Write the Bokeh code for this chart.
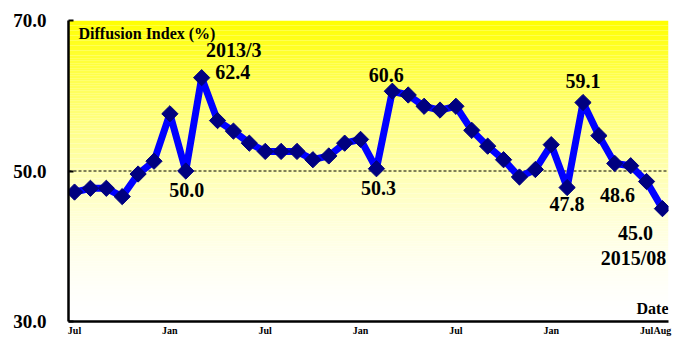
import numpy as np
from bokeh.plotting import figure
from bokeh.models import Label, FixedTicker
from bokeh.core.properties import value
from bokeh.embed import file_html
from bokeh.resources import INLINE

# ---- data ----
months = ["2012/07", "2012/08", "2012/09", "2012/10", "2012/11", "2012/12",
          "2013/01", "2013/02", "2013/03", "2013/04", "2013/05", "2013/06",
          "2013/07", "2013/08", "2013/09", "2013/10", "2013/11", "2013/12",
          "2014/01", "2014/02", "2014/03", "2014/04", "2014/05", "2014/06",
          "2014/07", "2014/08", "2014/09", "2014/10", "2014/11", "2014/12",
          "2015/01", "2015/02", "2015/03", "2015/04", "2015/05", "2015/06",
          "2015/07", "2015/08"]
diffusion = [47.2, 47.7, 47.7, 46.6, 49.6, 51.3,
             57.6, 50.0, 62.4, 56.7, 55.3, 53.7,
             52.6, 52.6, 52.6, 51.5, 52.0, 53.7,
             54.2, 50.3, 60.6, 60.1, 58.6, 58.1,
             58.6, 55.4, 53.3, 51.5, 49.2, 50.2,
             53.5, 47.8, 59.1, 54.7, 51.0, 50.7,
             48.6, 45.0]
x_tick_pos = [0, 6, 12, 18, 24, 30, 36, 37]
x_tick_labels = ["Jul", "Jan", "Jul", "Jan", "Jul", "Jan", "Jul", "Aug"]
y_ticks = [30, 50, 70]
y_tick_labels = ["30.0", "50.0", "70.0"]
# annotated points (index into series)
ann_idx = [8, 7, 20, 19, 32, 31, 36, 37]
# extra date captions
date_idx = [8, 37]
date_text = ["2013/3", "2015/08"]

# ---- styles ----
ann_dx = [31, 1, -6, 2, 0, 0, -29, -27]
ann_dy = [-6, 19, -16, 19, -22, 16, 13, 24]
date_dx = [32, -29]
date_dy = [-28, 49]

SERIF = "Liberation Serif"
x = list(range(len(diffusion)))
x0, x1 = -0.38, 37.38
y0, y1 = 30, 70

p = figure(width=675, height=338, output_backend="svg", toolbar_location=None,
           x_range=(x0, x1), y_range=(y0, y1),
           min_border_left=68, min_border_right=7, min_border_top=20, min_border_bottom=13)
p.outline_line_color = None
p.background_fill_color = "white"
p.border_fill_color = "white"
p.xgrid.visible = False
p.ygrid.visible = False

# gradient background (yellow at top -> white at bottom)
nb = 120
edges = np.linspace(y0, y1, nb + 1)
cols = []
for i in range(nb):
    t = 1 - ((edges[i] + edges[i + 1]) / 2 - y0) / (y1 - y0)  # 0 at top, 1 at bottom
    b = int(round(255 * (1 - (1 - t) ** 1.7)))
    cols.append("#ffff%02x" % b)
p.quad(left=x0, right=x1, bottom=edges[:-1], top=edges[1:], fill_color=cols,
       line_color=None)

# dashed 50 reference
p.segment(x0=[x0], x1=[x1], y0=[50], y1=[50], line_color="black",
          line_width=1, line_dash="3 2")

p.line(x, diffusion, line_color="#0000ff", line_width=7, line_join="round")
p.scatter(x, diffusion, marker="square", size=11.5, angle=np.pi / 4,
          fill_color="#000080", line_color="#000080")

# value annotations
p.text(x=[x[i] for i in ann_idx], y=[diffusion[i] for i in ann_idx],
       text=["%.1f" % diffusion[i] for i in ann_idx],
       x_offset=ann_dx, y_offset=ann_dy, text_align="center", text_baseline="middle",
       text_font=value(SERIF), text_font_style="bold", text_font_size="20px",
       text_color="black")
p.text(x=[x[i] for i in date_idx], y=[diffusion[i] for i in date_idx],
       text=date_text, x_offset=date_dx, y_offset=date_dy,
       text_align="center", text_baseline="middle",
       text_font=value(SERIF), text_font_style="bold", text_font_size="20px",
       text_color="black")

p.add_layout(Label(x=0.25, y=68.3, text="Diffusion Index (%)", text_align="left",
                   text_baseline="middle", text_font=SERIF, text_font_style="bold",
                   text_font_size="16px", text_color="black"))
p.add_layout(Label(x=x1, y=31.7, text="Date", text_align="right",
                   text_baseline="middle", text_font=SERIF, text_font_style="bold",
                   text_font_size="16px", text_color="black"))

# axes
p.xaxis.ticker = FixedTicker(ticks=x_tick_pos)
p.xaxis.major_label_overrides = {t: l for t, l in zip(x_tick_pos, x_tick_labels)}
p.xaxis.major_tick_out = 0
p.xaxis.major_tick_in = 0
p.xaxis.minor_tick_line_color = None
p.xaxis.axis_line_width = 2.5
p.xaxis.axis_line_color = "black"
p.xaxis.major_label_standoff = 3
p.xaxis.major_label_text_font = SERIF
p.xaxis.major_label_text_font_style = "bold"
p.xaxis.major_label_text_font_size = "10px"
p.xaxis.major_label_text_color = "black"

p.yaxis.ticker = FixedTicker(ticks=y_ticks)
p.yaxis.major_label_overrides = {t: l for t, l in zip(y_ticks, y_tick_labels)}
p.yaxis.major_tick_out = 0
p.yaxis.major_tick_in = 5
p.yaxis.major_tick_line_width = 2
p.yaxis.minor_tick_line_color = None
p.yaxis.axis_line_width = 2.5
p.yaxis.axis_line_color = "black"
p.yaxis.major_label_standoff = 22
p.yaxis.major_label_text_font = SERIF
p.yaxis.major_label_text_font_style = "bold"
p.yaxis.major_label_text_font_size = "19px"
p.yaxis.major_label_text_color = "black"

open("out.html", "w").write(file_html(p, INLINE))
